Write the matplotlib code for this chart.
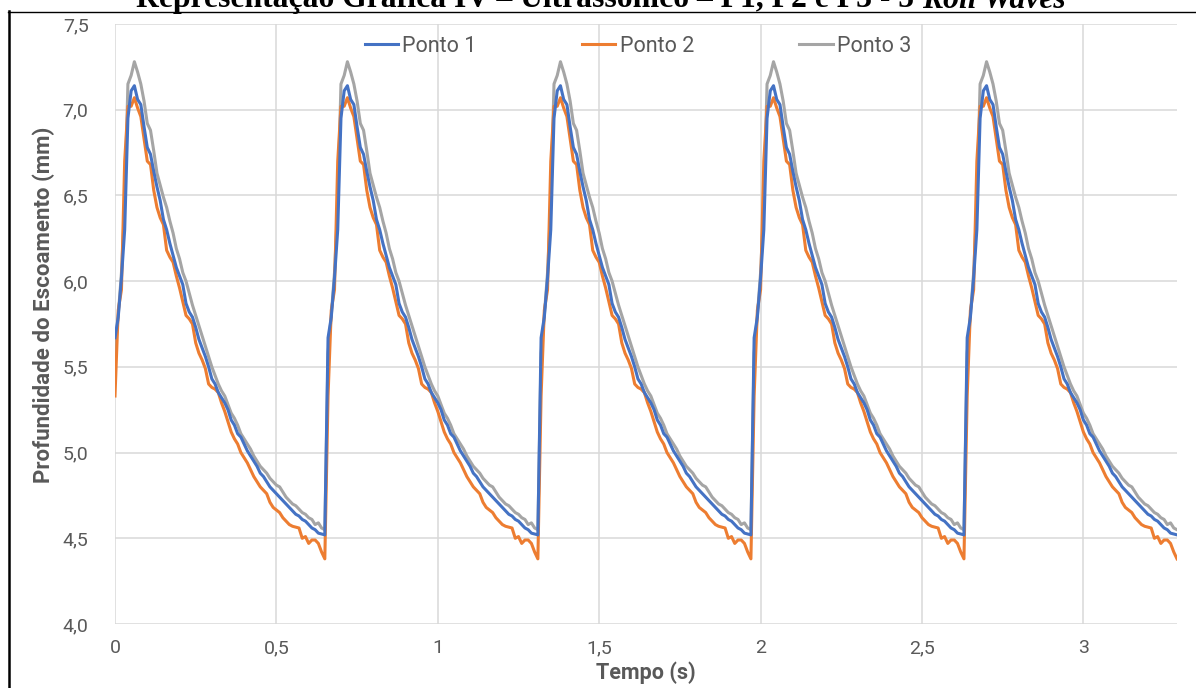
import numpy as np
import matplotlib
matplotlib.use("Agg")
import matplotlib.pyplot as plt
from matplotlib.lines import Line2D
from matplotlib.ticker import FixedLocator, FuncFormatter

# Flow depth (mm) over one roll-wave period, sampled every 0.01 s
onda_p1 = [5.67, 5.79, 6.02, 6.30, 6.95, 7.11, 7.14, 7.06, 7.03, 6.90,
           6.78, 6.74, 6.64, 6.55, 6.47, 6.36, 6.30, 6.22, 6.15, 6.08,
           6.03, 5.98, 5.87, 5.82, 5.79, 5.73, 5.66, 5.61, 5.56, 5.50,
           5.43, 5.40, 5.35, 5.32, 5.29, 5.25, 5.19, 5.16, 5.11, 5.09,
           5.05, 5.01, 4.98, 4.95, 4.92, 4.88, 4.86, 4.83, 4.80, 4.78,
           4.76, 4.74, 4.72, 4.70, 4.68, 4.66, 4.64, 4.63, 4.61, 4.60,
           4.58, 4.56, 4.55, 4.53, 4.525, 4.52]
onda_p2 = [5.33, 5.83, 5.95, 6.70, 7.02, 7.02, 7.07, 7.01, 6.96, 6.83,
           6.70, 6.68, 6.53, 6.43, 6.37, 6.33, 6.18, 6.14, 6.11, 6.03,
           5.96, 5.88, 5.80, 5.78, 5.75, 5.64, 5.58, 5.54, 5.49, 5.40,
           5.38, 5.37, 5.35, 5.29, 5.24, 5.18, 5.12, 5.08, 5.05, 5.00,
           4.97, 4.94, 4.90, 4.86, 4.83, 4.80, 4.78, 4.76, 4.71, 4.68,
           4.665, 4.65, 4.62, 4.60, 4.58, 4.57, 4.565, 4.56, 4.50, 4.51,
           4.47, 4.49, 4.49, 4.47, 4.42, 4.38]
onda_p3 = [5.58, 5.80, 6.05, 6.45, 7.15, 7.20, 7.28, 7.22, 7.15, 7.05,
           6.92, 6.88, 6.76, 6.63, 6.56, 6.49, 6.43, 6.35, 6.28, 6.19,
           6.13, 6.05, 6.00, 5.93, 5.86, 5.80, 5.74, 5.68, 5.62, 5.56,
           5.50, 5.45, 5.40, 5.36, 5.33, 5.28, 5.23, 5.20, 5.16, 5.11,
           5.08, 5.05, 5.02, 4.98, 4.95, 4.92, 4.90, 4.88, 4.85, 4.83,
           4.81, 4.80, 4.77, 4.74, 4.72, 4.70, 4.69, 4.67, 4.65, 4.64,
           4.62, 4.61, 4.58, 4.59, 4.56, 4.55]
n_ondas = 5
intervalo_s = 0.01

series_nomes = ["Ponto 1", "Ponto 2", "Ponto 3"]
series_cores = ["#4472C4", "#ED7D31", "#A5A5A5"]

x_ticks = [0, 0.5, 1, 1.5, 2, 2.5, 3]
y_ticks = [4.0, 4.5, 5.0, 5.5, 6.0, 6.5, 7.0, 7.5]

titulo_normal = "Representação Gráfica IV – Ultrassônico – P1, P2 e P3 - 5 "
titulo_italico = "Roll Waves"

# five consecutive waves of the same recorded profile
p1 = np.tile(onda_p1, n_ondas)
p2 = np.tile(onda_p2, n_ondas)
p3 = np.tile(onda_p3, n_ondas)
tempo = np.round(np.arange(len(p1)) * intervalo_s, 2)

plt.rcParams["font.family"] = ["Roboto", "DejaVu Sans"]
W, H = 1196, 688
fig = plt.figure(figsize=(W / 100, H / 100), dpi=100)
fig.patch.set_facecolor("white")

L, R, T, B = 115, 1177, 24, 624
ax = fig.add_axes([L / W, 1 - B / H, (R - L) / W, (B - T) / H])

for y, nome, cor, z in zip([p1, p2, p3], series_nomes, series_cores, [3, 2, 1]):
    ax.plot(tempo, y, color=cor, lw=2.2, label=nome, zorder=z,
            solid_joinstyle="round")

ax.set_xlim(0, tempo[-1])
ax.set_ylim(4.0, 7.5)
ax.xaxis.set_major_locator(FixedLocator(x_ticks))
ax.yaxis.set_major_locator(FixedLocator(y_ticks))
ax.xaxis.set_major_formatter(FuncFormatter(lambda v, p: f"{v:g}".replace(".", ",")))
ax.yaxis.set_major_formatter(FuncFormatter(lambda v, p: f"{v:.1f}".replace(".", ",")))
ax.grid(True, color="#D9D9D9", lw=1.1)
ax.set_axisbelow(True)
for s in ax.spines.values():
    s.set_visible(False)
ax.tick_params(axis="both", length=0, labelsize=14, labelcolor="#595959")
ax.tick_params(axis="y", pad=19)
ax.tick_params(axis="x", pad=11)

ax.set_xlabel("Tempo (s)", fontsize=15.5, fontweight="bold", color="#595959",
              labelpad=3)
ax.set_ylabel("Profundidade do Escoamento (mm)", fontsize=16,
              fontweight="bold", color="#595959")
ax.yaxis.set_label_coords((55 - L) / (R - L), (B - 305) / (B - T))

leg = ax.legend(loc="center", bbox_to_anchor=((638 - L) / (R - L), (B - 46) / (B - T)),
                ncol=3, frameon=False, fontsize=15.5, handlelength=1.55,
                handletextpad=0.2, columnspacing=4.9, borderpad=0,
                borderaxespad=0)
for t in leg.get_texts():
    t.set_color("#595959")

# title (partly cut by the top of the page), scaled to its printed width
fs_title = 20.0
base_y = 1 - 7.5 / H
t1 = fig.text(0, base_y, titulo_normal, fontsize=fs_title, fontweight="bold",
              family="Liberation Serif", ha="left", va="baseline")
t2 = fig.text(0, base_y, titulo_italico, fontsize=fs_title, fontweight="bold",
              fontstyle="italic", family="Liberation Serif", ha="left",
              va="baseline")
fig.canvas.draw()
largura = t1.get_window_extent().width + t2.get_window_extent().width
fs_title *= (1067 - 136) / largura
t1.set_fontsize(fs_title)
t2.set_fontsize(fs_title)
fig.canvas.draw()
w1 = t1.get_window_extent().width
w2 = t2.get_window_extent().width
x0 = 601 - (w1 + w2) / 2
t1.set_x(x0 / W)
t2.set_x((x0 + w1) / W)

# page frame lines
fig.add_artist(Line2D([8.5 / W, 8.5 / W], [0, 1 - 11 / H], color="black",
                      lw=1.8, transform=fig.transFigure))
fig.add_artist(Line2D([8 / W, 1], [1 - 11.5 / H, 1 - 11.5 / H], color="black",
                      lw=1.0, transform=fig.transFigure))

fig.savefig("out.png", dpi=100)
